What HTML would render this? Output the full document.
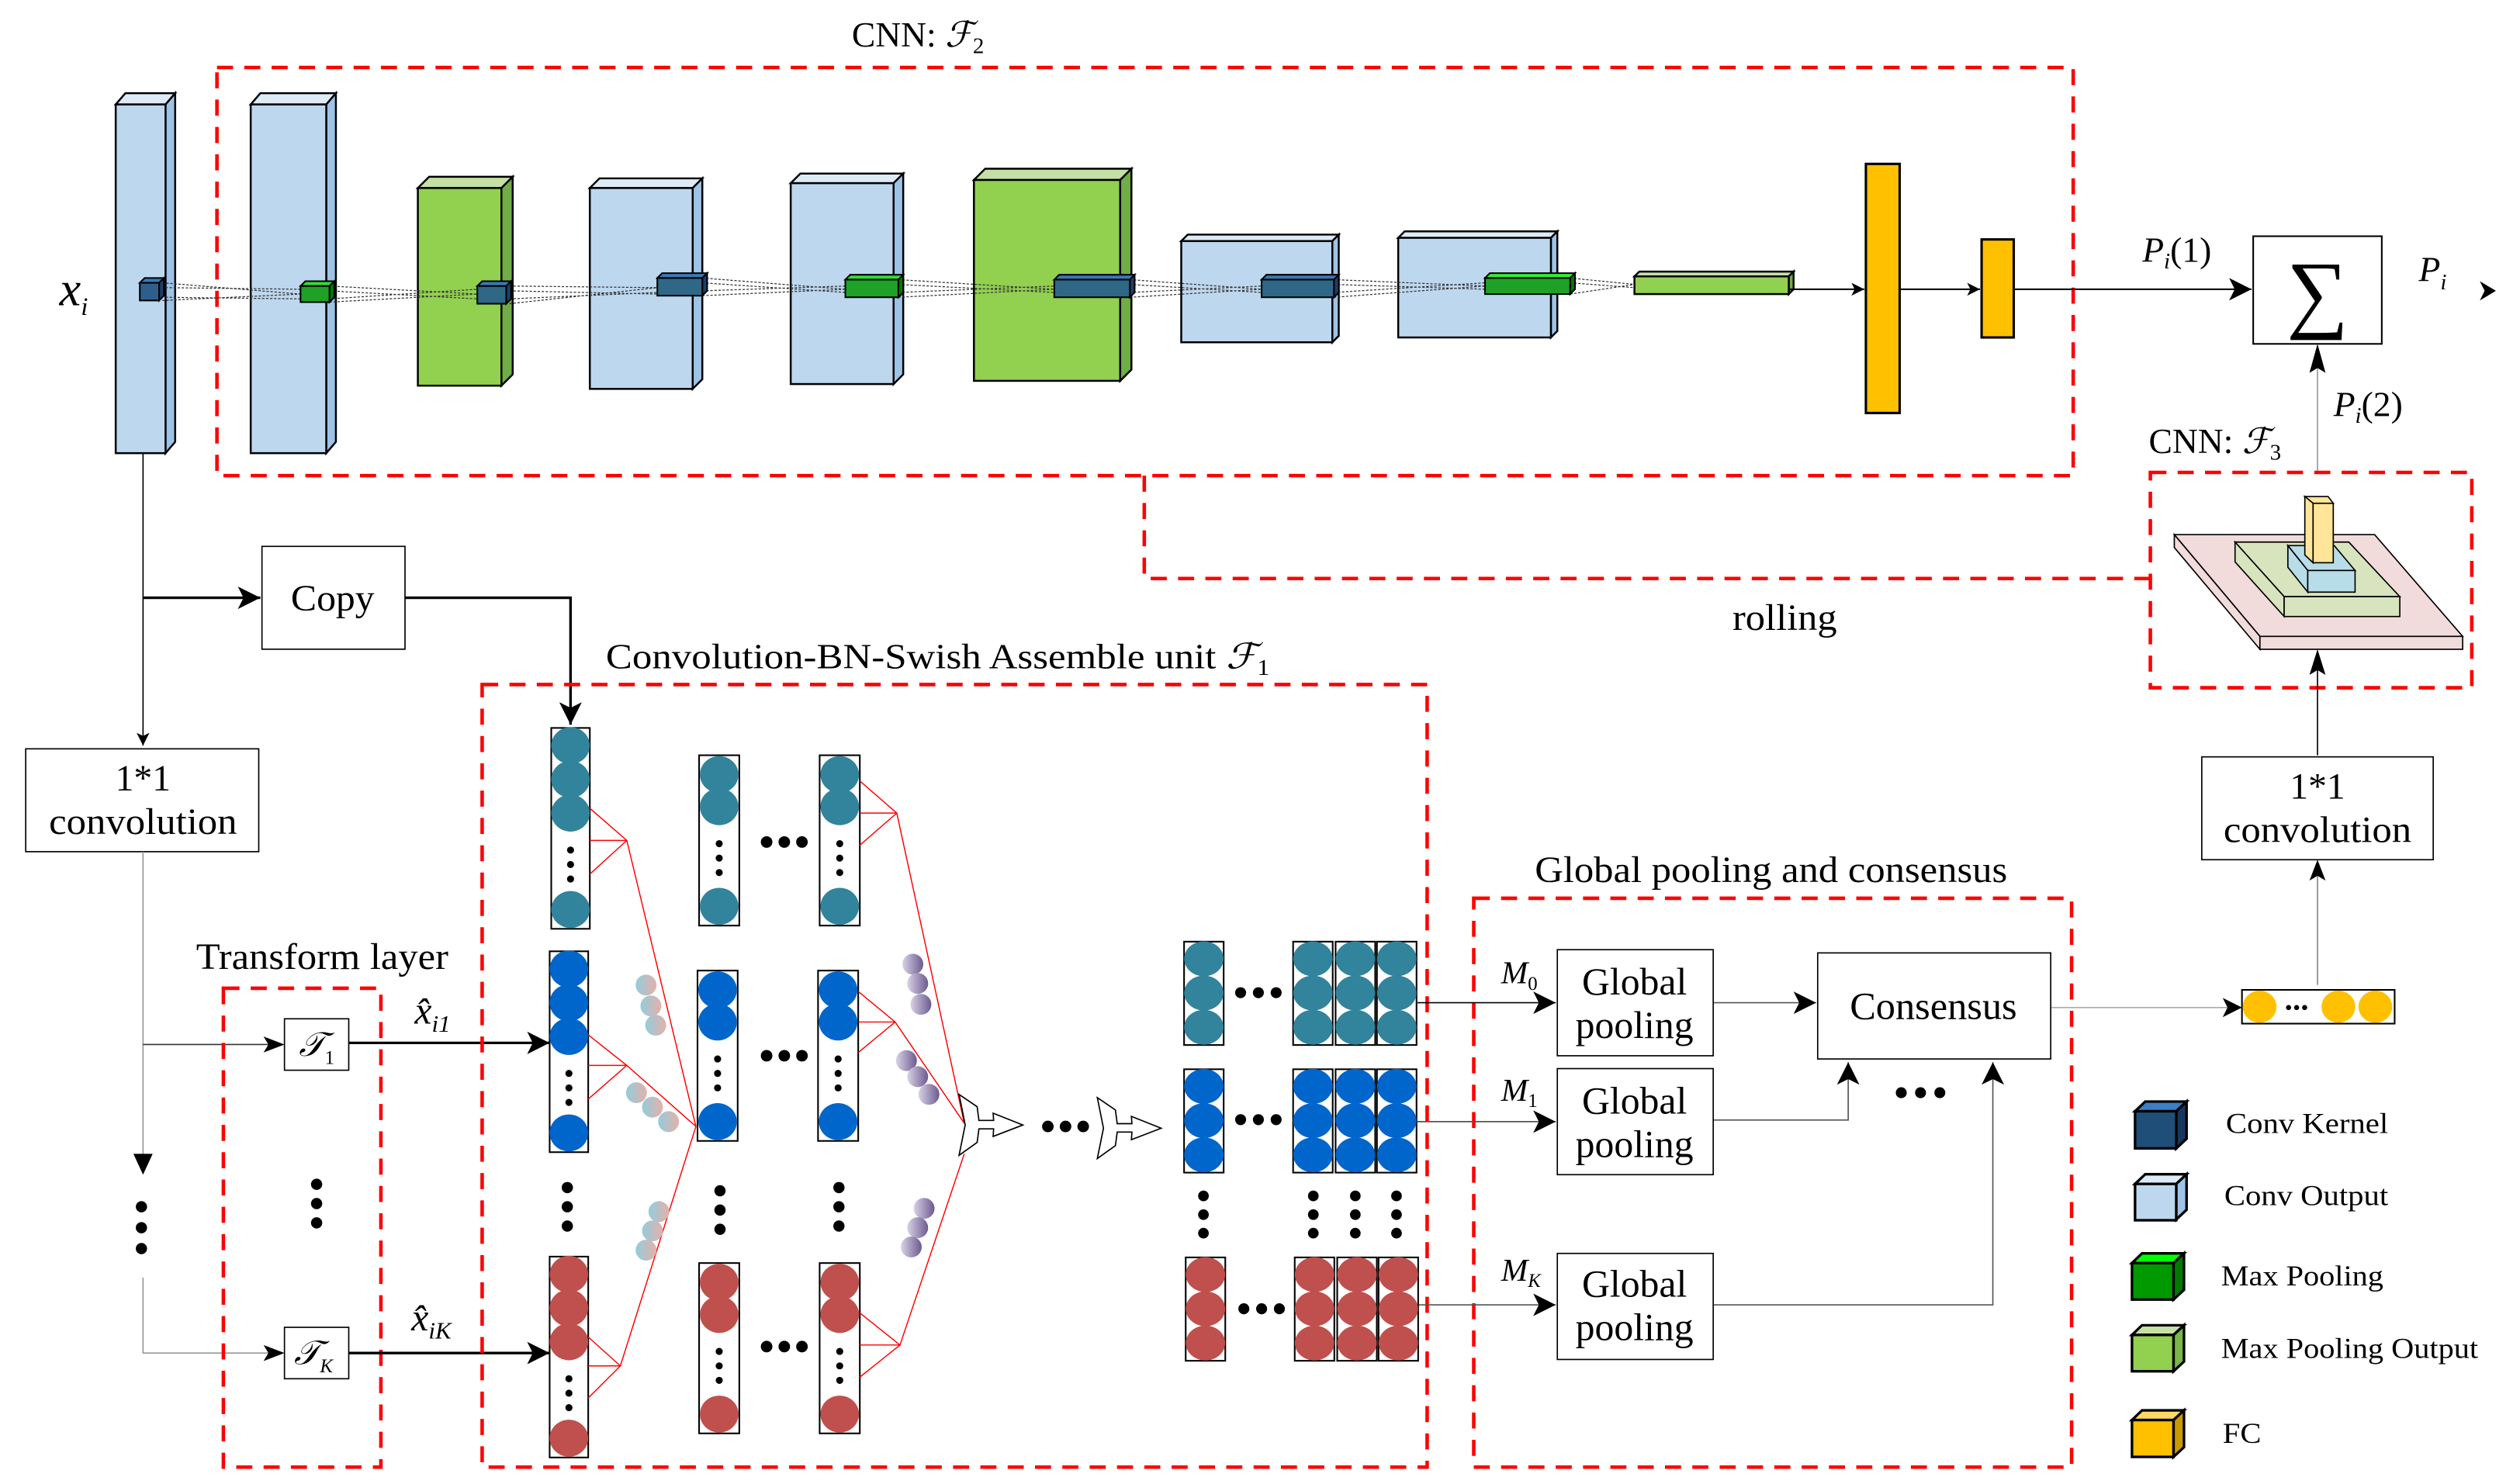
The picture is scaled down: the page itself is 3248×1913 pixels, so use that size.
<!DOCTYPE html>
<html><head><meta charset="utf-8"><style>
html,body{margin:0;padding:0;background:#fff;}
svg{display:block;}
text{font-family:"Liberation Serif","DejaVu Serif",serif;fill:#000;}
</style></head><body>
<svg width="3248" height="1913" viewBox="0 0 1568 923.5" preserveAspectRatio="none" xmlns="http://www.w3.org/2000/svg">
<defs>
<marker id="ar" viewBox="0 0 10 10" refX="10" refY="5" markerWidth="8" markerHeight="8" orient="auto" markerUnits="userSpaceOnUse"><path d="M0,0 L10,5 L0,10 L2.5,5 z" fill="#000"/></marker>
<marker id="arb" viewBox="0 0 10 10" refX="10" refY="5" markerWidth="14" markerHeight="14" orient="auto" markerUnits="userSpaceOnUse"><path d="M0,0 L10,5 L0,10 L2.5,5 z" fill="#000"/></marker>
<linearGradient id="gpb" x1="0" y1="0" x2="1" y2="0"><stop offset="0" stop-color="#92cddc"/><stop offset="1" stop-color="#e6b0aa"/></linearGradient>
<linearGradient id="gpu" x1="0" y1="0" x2="1" y2="0"><stop offset="0" stop-color="#d9d2e6"/><stop offset="1" stop-color="#6c5a8f"/></linearGradient>
<g id="colA"><rect x="0" y="0" width="24" height="125" fill="#fff" stroke="#000" stroke-width="1"/><ellipse cx="12" cy="11" rx="12" ry="11.5"/><ellipse cx="12" cy="32" rx="12" ry="11.5"/><ellipse cx="12" cy="53" rx="12" ry="11.5"/><circle cx="12" cy="76" r="2.2" fill="#000"/><circle cx="12" cy="85" r="2.2" fill="#000"/><circle cx="12" cy="94" r="2.2" fill="#000"/><ellipse cx="12" cy="113" rx="12" ry="11.5"/></g>
<g id="colB"><rect x="0" y="0" width="25" height="106" fill="#fff" stroke="#000" stroke-width="1"/><ellipse cx="12.5" cy="12" rx="12" ry="11.5"/><ellipse cx="12.5" cy="32" rx="12" ry="11.5"/><circle cx="12.5" cy="55" r="2.2" fill="#000"/><circle cx="12.5" cy="64" r="2.2" fill="#000"/><circle cx="12.5" cy="73" r="2.2" fill="#000"/><ellipse cx="12.5" cy="94" rx="12" ry="11.5"/></g>
<g id="colD"><rect x="0" y="0" width="24.5" height="64" fill="#fff" stroke="#000" stroke-width="1"/><ellipse cx="12.25" cy="10.6" rx="12.2" ry="10.8"/><ellipse cx="12.25" cy="31.8" rx="12.2" ry="10.8"/><ellipse cx="12.25" cy="53" rx="12.2" ry="10.8"/></g>
<g id="jet"><polygon points="593.7,677.6 604.9,685.2 606,693.7 615.1,693.7 614.8,689.2 633.2,696.5 614.8,703.6 615.1,698.9 606,698.9 604.9,707.3 593.7,715.3 597.5,696.5" fill="#fff" stroke="#000" stroke-width="0.8"/></g>
</defs>

<!-- ===== CNN F2 ===== -->
<text x="530" y="29" font-size="22">CNN: <tspan font-style="italic">ℱ</tspan><tspan font-size="14" dy="4">2</tspan></text>
<rect x="135" y="42" width="1155" height="254" fill="none" stroke="#f00" stroke-width="2.2" stroke-dasharray="10 7"/>
<polyline points="712,296 712,360 1338,360" fill="none" stroke="#f00" stroke-width="2.2" stroke-dasharray="10 7"/>
<text x="1078" y="392" font-size="23" textLength="65" lengthAdjust="spacingAndGlyphs">rolling</text>

<g stroke="#000" stroke-width="1.2">
<polygon points="72,65 78,58 109,58 103,65" fill="#ddebf7"/><polygon points="103,65 109,58 109,275 103,282" fill="#9dc3e6"/><rect x="72" y="65" width="31" height="217" fill="#bdd7ee"/>
<polygon points="156,65 162,58 209,58 203,65" fill="#ddebf7"/><polygon points="203,65 209,58 209,275 203,282" fill="#9dc3e6"/><rect x="156" y="65" width="47" height="217" fill="#bdd7ee"/>
<polygon points="260,117 267,110 319,110 312,117" fill="#c5e0a5"/><polygon points="312,117 319,110 319,233 312,240" fill="#70ad47"/><rect x="260" y="117" width="52" height="123" fill="#92d050"/>
<polygon points="367,117 373,111 437,111 431,117" fill="#ddebf7"/><polygon points="431,117 437,111 437,236 431,242" fill="#9dc3e6"/><rect x="367" y="117" width="64" height="125" fill="#bdd7ee"/>
<polygon points="492,114 498,108 562,108 556,114" fill="#ddebf7"/><polygon points="556,114 562,108 562,233 556,239" fill="#9dc3e6"/><rect x="492" y="114" width="64" height="125" fill="#bdd7ee"/>
<polygon points="606,112 613,105 704,105 697,112" fill="#c5e0a5"/><polygon points="697,112 704,105 704,230 697,237" fill="#70ad47"/><rect x="606" y="112" width="91" height="125" fill="#92d050"/>
<polygon points="735,150 739,146 833,146 829,150" fill="#ddebf7"/><polygon points="829,150 833,146 833,209 829,213" fill="#9dc3e6"/><rect x="735" y="150" width="94" height="63" fill="#bdd7ee"/>
<polygon points="870,148 874,144 969,144 965,148" fill="#ddebf7"/><polygon points="965,148 969,144 969,206 965,210" fill="#9dc3e6"/><rect x="870" y="148" width="95" height="62" fill="#bdd7ee"/>
<polygon points="1017,172 1020,169 1116,169 1113,172" fill="#c5e0a5"/><polygon points="1113,172 1116,169 1116,180 1113,183" fill="#70ad47"/><rect x="1017" y="172" width="96" height="11" fill="#92d050"/>
<rect x="1161" y="102" width="21" height="155" fill="#ffc000" stroke-width="1.5"/>
<rect x="1233" y="149" width="20" height="61" fill="#ffc000" stroke-width="1.5"/>
</g>
<g stroke="#333" stroke-width="0.6" stroke-dasharray="1.5 1" fill="none">
<path d="M101,176 L187,183 M101,187 L187,183 M103,179 L187,180 M103,185 L187,186"/>
<path d="M205,178 L297,183 M205,188 L297,183 M205,181 L297,186 M205,186 L297,180"/>
<path d="M317,178 L409,179 M317,189 L409,179 M317,181 L409,183 M317,186 L409,182"/>
<path d="M437,173 L526,180 M437,184 L526,180 M437,176 L526,182 M437,181 L526,178"/>
<path d="M559,174 L656,180 M559,185 L656,180 M559,177 L656,182 M559,182 L656,178"/>
<path d="M703,174 L785,180 M703,185 L785,180 M703,177 L785,182 M703,182 L785,178"/>
<path d="M830,174 L924,178 M830,185 L924,178 M830,177 L924,180 M830,182 L924,176"/>
<path d="M977,173 L1017,177 M977,183 L1017,177 M977,176 L1017,179"/>
</g>
<g stroke="#000" stroke-width="1">
<polygon points="87,176 90,173 102,173 99,176" fill="#3b78b5"/><polygon points="99,176 102,173 102,184 99,187" fill="#1e3f66"/><rect x="87" y="176" width="12" height="11" fill="#2e5f8a"/>
<polygon points="187,178 190,175 208,175 205,178" fill="#33dd33"/><polygon points="205,178 208,175 208,185 205,188" fill="#007a00"/><rect x="187" y="178" width="18" height="10" fill="#1fa127"/>
<polygon points="297,178 300,175 318,175 315,178" fill="#3b78b5"/><polygon points="315,178 318,175 318,186 315,189" fill="#1e3f66"/><rect x="297" y="178" width="18" height="11" fill="#2f6787"/>
<polygon points="409,173 412,170 440,170 437,173" fill="#3b78b5"/><polygon points="437,173 440,170 440,181 437,184" fill="#1e3f66"/><rect x="409" y="173" width="28" height="11" fill="#2f6787"/>
<polygon points="526,174 529,171 562,171 559,174" fill="#33dd33"/><polygon points="559,174 562,171 562,182 559,185" fill="#007a00"/><rect x="526" y="174" width="33" height="11" fill="#1fa127"/>
<polygon points="656,174 659,171 706,171 703,174" fill="#3b78b5"/><polygon points="703,174 706,171 706,182 703,185" fill="#1e3f66"/><rect x="656" y="174" width="47" height="11" fill="#2f6787"/>
<polygon points="785,174 788,171 833,171 830,174" fill="#3b78b5"/><polygon points="830,174 833,171 833,182 830,185" fill="#1e3f66"/><rect x="785" y="174" width="45" height="11" fill="#2f6787"/>
<polygon points="924,173 927,170 980,170 977,173" fill="#33ee33"/><polygon points="977,173 980,170 980,180 977,183" fill="#007a00"/><rect x="924" y="173" width="53" height="10" fill="#1fa127"/>
</g>
<g stroke="#000" stroke-width="1" fill="none">
<line x1="1113" y1="180" x2="1160" y2="180" marker-end="url(#ar)"/>
<line x1="1182" y1="180" x2="1232" y2="180" marker-end="url(#ar)"/>
<line x1="1253" y1="180" x2="1401" y2="180" marker-end="url(#arb)"/>
</g>
<rect x="1402" y="147" width="80" height="67" fill="#fff" stroke="#000" stroke-width="1"/>
<text x="1442" y="200" font-size="54" text-anchor="middle">∑</text>
<text x="1333" y="163" font-size="22"><tspan font-style="italic">P</tspan><tspan font-size="14" font-style="italic" dy="4">i</tspan><tspan dy="-4">(1)</tspan></text>
<text x="1505" y="175" font-size="22" font-style="italic">P<tspan font-size="14" dy="5">i</tspan></text>
<polygon points="1543,175 1553,181 1543,187 1546,181" fill="#000"/>
<line x1="1442" y1="294" x2="1442" y2="216" stroke="#999" stroke-width="0.8"/>
<polygon points="1442,214 1437,232 1442,229 1447,232" fill="#000"/>
<text x="1452" y="259" font-size="22"><tspan font-style="italic">P</tspan><tspan font-size="14" font-style="italic" dy="4">i</tspan><tspan dy="-4">(2)</tspan></text>

<!-- CNN F3 -->
<text x="1337" y="282" font-size="22">CNN: <tspan font-style="italic">ℱ</tspan><tspan font-size="14" dy="4">3</tspan></text>
<rect x="1338" y="294" width="200" height="134" fill="none" stroke="#f00" stroke-width="2.2" stroke-dasharray="10 7"/>
<g stroke="#000" stroke-width="0.8" transform="scale(1.00513)">
<polygon points="1346,331 1470,331 1524.5,394 1399,394" fill="#f2dcdb"/>
<polygon points="1346,331 1399,394 1399,402 1346,339" fill="#f2dcdb"/>
<rect x="1399" y="394" width="125.5" height="8" fill="#f2dcdb"/>
<polygon points="1383.6,335.6 1454,335.6 1485.6,369.4 1414,369.4" fill="#d7e4bd"/>
<polygon points="1383.6,335.6 1414,369.4 1414,381.7 1383.6,347.9" fill="#d7e4bd"/>
<rect x="1414" y="369.4" width="71.6" height="12.3" fill="#d7e4bd"/>
<polygon points="1416.3,337.8 1445,337.8 1457.9,353.2 1428.6,353.2" fill="#b7dde8"/>
<polygon points="1416.3,337.8 1428.6,353.2 1428.6,366.6 1416.3,351.2" fill="#b7dde8"/>
<rect x="1428.6" y="353.2" width="29.3" height="13.4" fill="#b7dde8"/>
<polygon points="1426.8,307.4 1441.2,307.4 1444.4,311.6 1431.9,311.6" fill="#fee599"/>
<polygon points="1426.8,307.4 1431.9,311.6 1431.9,348.4 1426.8,343.6" fill="#fee599"/>
<rect x="1431.9" y="311.6" width="12.5" height="36.8" fill="#fee599"/>
</g>
<line x1="1442" y1="470" x2="1442" y2="406" stroke="#000" stroke-width="0.8"/>
<polygon points="1442,404 1437,420 1442,417 1447,420" fill="#000"/>
<rect x="1370" y="471" width="144" height="64" fill="#fff" stroke="#000" stroke-width="0.8"/>
<text x="1442" y="497" font-size="23" text-anchor="middle">1*1</text>
<text x="1442" y="524" font-size="23" text-anchor="middle" textLength="117" lengthAdjust="spacingAndGlyphs">convolution</text>
<line x1="1442" y1="613" x2="1442" y2="537" stroke="#888" stroke-width="0.8"/>
<polygon points="1442,535 1437,548 1442,545 1447,548" fill="#000"/>
<rect x="1395" y="616" width="95" height="21" fill="#fff" stroke="#000" stroke-width="1"/>
<ellipse cx="1406" cy="626.5" rx="10.5" ry="10" fill="#ffc000"/>
<ellipse cx="1455" cy="626.5" rx="10.5" ry="10" fill="#ffc000"/>
<ellipse cx="1478" cy="626.5" rx="10.5" ry="10" fill="#ffc000"/>
<circle cx="1424" cy="627" r="1.6"/><circle cx="1429" cy="627" r="1.6"/><circle cx="1434" cy="627" r="1.6"/>
<line x1="1276" y1="627" x2="1394" y2="627" stroke="#aaa" stroke-width="0.8"/>
<polygon points="1395,627 1383,621 1386,627 1383,633" fill="#000"/>

<!-- ===== Left ===== -->
<text x="37" y="190" font-size="30" font-style="italic">x<tspan font-size="16" dy="6">i</tspan></text>
<line x1="89" y1="282" x2="89" y2="464" stroke="#000" stroke-width="0.8" marker-end="url(#ar)"/>
<line x1="89" y1="372" x2="162" y2="372" stroke="#000" stroke-width="1.6" marker-end="url(#arb)"/>
<rect x="163" y="340" width="89" height="64" fill="#fff" stroke="#000" stroke-width="0.8"/>
<text x="207" y="380" font-size="23" text-anchor="middle" textLength="52" lengthAdjust="spacingAndGlyphs">Copy</text>
<polyline points="252,372 355,372 355,451" fill="none" stroke="#000" stroke-width="1.6" marker-end="url(#arb)"/>
<rect x="16" y="466" width="145" height="64" fill="#fff" stroke="#000" stroke-width="0.8"/>
<text x="89" y="492" font-size="23" text-anchor="middle">1*1</text>
<text x="89" y="519" font-size="23" text-anchor="middle" textLength="117" lengthAdjust="spacingAndGlyphs">convolution</text>
<line x1="89" y1="530" x2="89" y2="730" stroke="#999" stroke-width="0.8"/>
<polygon points="89,731 83,718 95,718" fill="#000"/>
<circle cx="88" cy="751" r="3.5"/><circle cx="88" cy="764" r="3.5"/><circle cx="88" cy="777" r="3.5"/>
<polyline points="89,795 89,842 176,842" fill="none" stroke="#999" stroke-width="0.8"/>
<line x1="89" y1="650" x2="176" y2="650" stroke="#333" stroke-width="0.8"/>
<polygon points="177,650 164,645 167,650 164,655" fill="#000"/>
<polygon points="177,842 164,837 167,842 164,847" fill="#000"/>
<text x="122" y="603" font-size="23" textLength="157" lengthAdjust="spacingAndGlyphs">Transform layer</text>
<rect x="139" y="615" width="98" height="298" fill="none" stroke="#f00" stroke-width="2.2" stroke-dasharray="10 7"/>
<rect x="177" y="634" width="40" height="32" fill="#fff" stroke="#000" stroke-width="0.8"/>
<text x="186" y="657" font-size="21" font-style="italic">𝒯<tspan font-size="12" font-style="normal" dy="5">1</tspan></text>
<rect x="177" y="826" width="40" height="32" fill="#fff" stroke="#000" stroke-width="0.8"/>
<text x="183" y="849" font-size="21" font-style="italic">𝒯<tspan font-size="12" dy="5">K</tspan></text>
<circle cx="197" cy="737" r="3.5"/><circle cx="197" cy="749" r="3.5"/><circle cx="197" cy="761" r="3.5"/>
<line x1="217" y1="649" x2="342" y2="649" stroke="#000" stroke-width="1.6" marker-end="url(#arb)"/>
<line x1="217" y1="842" x2="342" y2="842" stroke="#000" stroke-width="1.6" marker-end="url(#arb)"/>
<text x="258" y="637" font-size="24" font-style="italic">x̂<tspan font-size="15" dy="5">i1</tspan></text>
<text x="256" y="828" font-size="24" font-style="italic">x̂<tspan font-size="15" dy="5">iK</tspan></text>

<!-- ===== Middle ===== -->
<text x="377" y="416" font-size="22" textLength="413" lengthAdjust="spacingAndGlyphs">Convolution-BN-Swish Assemble unit  <tspan font-style="italic">ℱ</tspan><tspan font-size="14" dy="4">1</tspan></text>
<rect x="300" y="426" width="588" height="487" fill="none" stroke="#f00" stroke-width="2.2" stroke-dasharray="10 7"/>
<use href="#colA" x="343" y="453" fill="#31849b"/>
<use href="#colA" x="342" y="592" fill="#0066cc"/>
<use href="#colA" x="342" y="782" fill="#c0504d"/>
<use href="#colB" x="435" y="470" fill="#31849b"/>
<use href="#colB" x="434" y="604" fill="#0066cc"/>
<use href="#colB" x="435" y="786" fill="#c0504d"/>
<use href="#colB" x="510" y="470" fill="#31849b"/>
<use href="#colB" x="509" y="604" fill="#0066cc"/>
<use href="#colB" x="510" y="786" fill="#c0504d"/>
<g fill="#000">
<circle cx="477" cy="524" r="3.6"/><circle cx="488" cy="524" r="3.6"/><circle cx="499" cy="524" r="3.6"/>
<circle cx="477" cy="657" r="3.6"/><circle cx="488" cy="657" r="3.6"/><circle cx="499" cy="657" r="3.6"/>
<circle cx="477" cy="838" r="3.6"/><circle cx="488" cy="838" r="3.6"/><circle cx="499" cy="838" r="3.6"/>
<circle cx="353" cy="739" r="3.5"/><circle cx="353" cy="751" r="3.5"/><circle cx="353" cy="763" r="3.5"/>
<circle cx="448" cy="741" r="3.5"/><circle cx="448" cy="753" r="3.5"/><circle cx="448" cy="765" r="3.5"/>
<circle cx="522" cy="739" r="3.5"/><circle cx="522" cy="751" r="3.5"/><circle cx="522" cy="763" r="3.5"/>
<circle cx="652" cy="701" r="3.6"/><circle cx="663" cy="701" r="3.6"/><circle cx="674" cy="701" r="3.6"/>
</g>
<g stroke="#f00" stroke-width="0.7" fill="none">
<path d="M367,503 L390,523 L367,544 M367,523 L390,523 L433,701"/>
<path d="M366,644 L390,663 L366,684 M366,663 L390,663 L433,701"/>
<path d="M366,832 L386,850 L366,870 M366,850 L386,850 L433,701"/>
<path d="M535,486 L558,506 L535,526 M535,506 L558,506 L600,699"/>
<path d="M534,617 L557,636 L534,655 M534,636 L557,636 L600,699"/>
<path d="M535,817 L560,837 L535,857 M535,837 L560,837 L600,718"/>
</g>
<g fill="url(#gpb)">
<circle cx="402" cy="613" r="6.5"/><circle cx="405" cy="626" r="6.5"/><circle cx="408" cy="638" r="6.5"/>
<circle cx="396" cy="680" r="6.5"/><circle cx="406" cy="689" r="6.5"/><circle cx="416" cy="698" r="6.5"/>
<circle cx="410" cy="754" r="6.5"/><circle cx="406" cy="766" r="6.5"/><circle cx="402" cy="778" r="6.5"/>
</g>
<g fill="url(#gpu)">
<circle cx="568" cy="600" r="6.5"/><circle cx="571" cy="612" r="6.5"/><circle cx="573" cy="625" r="6.5"/>
<circle cx="564" cy="660" r="6.5"/><circle cx="571" cy="670" r="6.5"/><circle cx="578" cy="681" r="6.5"/>
<circle cx="575" cy="752" r="6.5"/><circle cx="571" cy="764" r="6.5"/><circle cx="567" cy="776" r="6.5"/>
</g>
<g transform="scale(1.00513)">
<use href="#jet"/>
<use href="#jet" x="85.6" y="2"/>
</g>

<g transform="scale(1.00513)">
<use href="#colD" x="733" y="583" fill="#31849b"/>
<use href="#colD" x="800.5" y="583" fill="#31849b"/>
<use href="#colD" x="826.8" y="583" fill="#31849b"/>
<use href="#colD" x="852.4" y="583" fill="#31849b"/>
<use href="#colD" x="733" y="662" fill="#0066cc"/>
<use href="#colD" x="800.5" y="662" fill="#0066cc"/>
<use href="#colD" x="826.8" y="662" fill="#0066cc"/>
<use href="#colD" x="852.4" y="662" fill="#0066cc"/>
<use href="#colD" x="734" y="778.5" fill="#c0504d"/>
<use href="#colD" x="801.5" y="778.5" fill="#c0504d"/>
<use href="#colD" x="827.8" y="778.5" fill="#c0504d"/>
<use href="#colD" x="853.4" y="778.5" fill="#c0504d"/>
<g fill="#000">
<circle cx="768" cy="614.6" r="3.4"/><circle cx="779" cy="614.6" r="3.4"/><circle cx="790" cy="614.6" r="3.4"/>
<circle cx="768" cy="693.2" r="3.4"/><circle cx="779" cy="693.2" r="3.4"/><circle cx="790" cy="693.2" r="3.4"/>
<circle cx="770" cy="810.3" r="3.4"/><circle cx="781" cy="810.3" r="3.4"/><circle cx="792" cy="810.3" r="3.4"/>
<circle cx="745" cy="740.4" r="3.3"/><circle cx="745" cy="752" r="3.3"/><circle cx="745" cy="763.5" r="3.3"/>
<circle cx="813" cy="740.4" r="3.3"/><circle cx="813" cy="752" r="3.3"/><circle cx="813" cy="763.5" r="3.3"/>
<circle cx="839" cy="740.4" r="3.3"/><circle cx="839" cy="752" r="3.3"/><circle cx="839" cy="763.5" r="3.3"/>
<circle cx="864.5" cy="740.4" r="3.3"/><circle cx="864.5" cy="752" r="3.3"/><circle cx="864.5" cy="763.5" r="3.3"/>
</g>
</g>

<!-- ===== Global pooling ===== -->
<text x="955" y="549" font-size="23" textLength="294" lengthAdjust="spacingAndGlyphs">Global pooling and consensus</text>
<rect x="917" y="559" width="372" height="354" fill="none" stroke="#f00" stroke-width="2.2" stroke-dasharray="10 7"/>
<g stroke="#000" stroke-width="0.8" fill="none">
<line x1="882" y1="624" x2="968" y2="624" marker-end="url(#arb)"/>
<line x1="882" y1="698" x2="968" y2="698" stroke="#555" marker-end="url(#arb)"/>
<line x1="883" y1="812" x2="968" y2="812" stroke="#555" marker-end="url(#arb)"/>
<line x1="1066" y1="624" x2="1130" y2="624" stroke="#555" marker-end="url(#arb)"/>
<polyline points="1066,697 1150,697 1150,661" stroke="#555" marker-end="url(#arb)"/>
<polyline points="1066,812 1240,812 1240,661" stroke="#555" marker-end="url(#arb)"/>
</g>
<g fill="#fff" stroke="#000" stroke-width="0.8">
<rect x="969" y="591" width="97" height="66"/>
<rect x="969" y="665" width="97" height="66"/>
<rect x="969" y="780" width="97" height="66"/>
<rect x="1131" y="593" width="145" height="66"/>
</g>
<g font-size="24" text-anchor="middle">
<text x="1017" y="619">Global</text><text x="1017" y="646">pooling</text>
<text x="1017" y="693">Global</text><text x="1017" y="720">pooling</text>
<text x="1017" y="807">Global</text><text x="1017" y="834">pooling</text>
<text x="1203" y="634" textLength="104" lengthAdjust="spacingAndGlyphs">Consensus</text>
</g>
<text x="934" y="612" font-size="20" font-style="italic">M<tspan font-size="12" font-style="normal" dy="4">0</tspan></text>
<text x="934" y="685" font-size="20" font-style="italic">M<tspan font-size="12" font-style="normal" dy="4">1</tspan></text>
<text x="934" y="797" font-size="20" font-style="italic">M<tspan font-size="12" dy="4">K</tspan></text>
<circle cx="1183" cy="680" r="3.4"/><circle cx="1195" cy="680" r="3.4"/><circle cx="1207" cy="680" r="3.4"/>

<!-- ===== Legend ===== -->
<g stroke="#000" stroke-width="1.6" transform="scale(1.00513)">
<polygon points="1321.7,688 1328,682 1353.6,682 1347.2,688" fill="#3a80c3"/><polygon points="1347.2,688 1353.6,682 1353.6,705 1347.2,711" fill="#17375e"/><rect x="1321.7" y="688" width="25.5" height="23" fill="#1f4e79"/>
<polygon points="1321.7,733 1328,727 1353.6,727 1347.2,733" fill="#ddebf7"/><polygon points="1347.2,733 1353.6,727 1353.6,749 1347.2,755" fill="#9dc3e6"/><rect x="1321.7" y="733" width="25.5" height="22.5" fill="#bdd7ee"/>
<polygon points="1319.8,782 1326,776 1352,776 1345.5,782" fill="#00ff00"/><polygon points="1345.5,782 1352,776 1352,798.6 1345.5,804.6" fill="#007a00"/><rect x="1319.8" y="782" width="25.7" height="22.6" fill="#009900"/>
<polygon points="1319.8,826.5 1326,820.5 1352,820.5 1345.5,826.5" fill="#c5e0a5"/><polygon points="1345.5,826.5 1352,820.5 1352,843 1345.5,849" fill="#7ab648"/><rect x="1319.8" y="826.5" width="25.7" height="22.5" fill="#92d050"/>
<polygon points="1319.8,879.2 1326,873.2 1352,873.2 1345.5,879.2" fill="#ffd966"/><polygon points="1345.5,879.2 1352,873.2 1352,896 1345.5,902" fill="#c99a00"/><rect x="1319.8" y="879.2" width="25.7" height="22.8" fill="#ffc000"/>
</g>
<g font-size="18">
<text x="1385" y="705" textLength="101" lengthAdjust="spacingAndGlyphs">Conv Kernel</text>
<text x="1384" y="750" textLength="102" lengthAdjust="spacingAndGlyphs">Conv Output</text>
<text x="1382" y="800" textLength="101" lengthAdjust="spacingAndGlyphs">Max Pooling</text>
<text x="1382" y="845" textLength="160" lengthAdjust="spacingAndGlyphs">Max Pooling Output</text>
<text x="1383" y="898" textLength="24" lengthAdjust="spacingAndGlyphs">FC</text>
</g>
</svg>
</body></html>
